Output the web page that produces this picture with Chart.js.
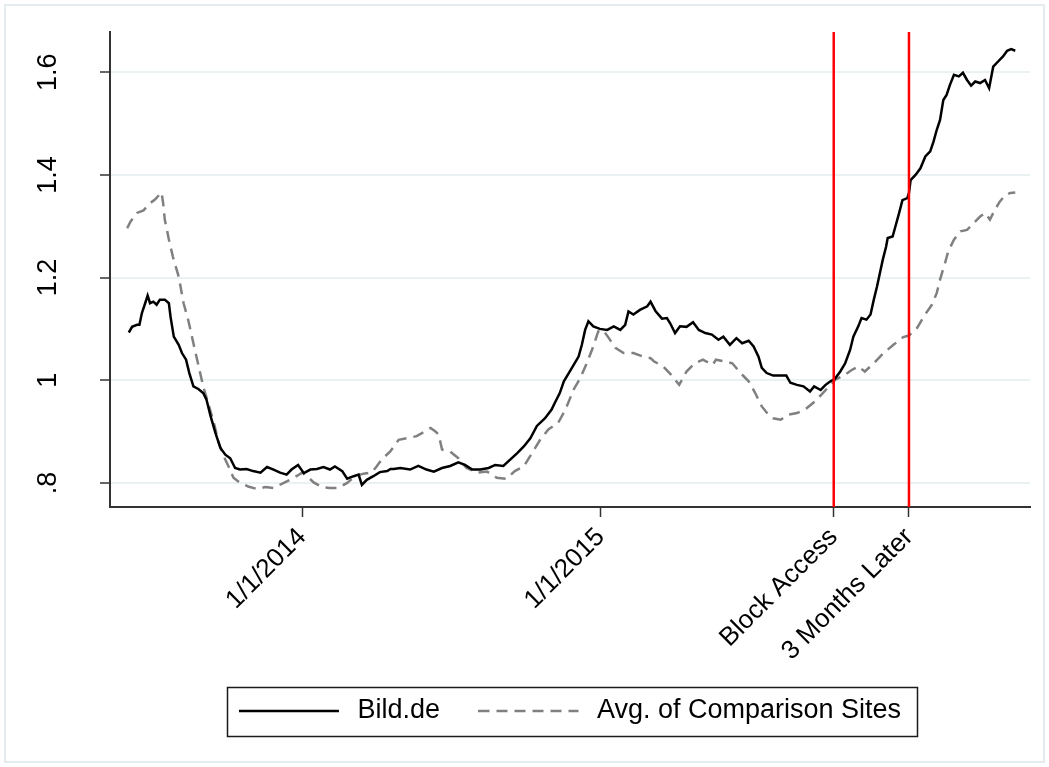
<!DOCTYPE html>
<html><head><meta charset="utf-8">
<script src="https://cdn.jsdelivr.net/npm/chart.js@4/dist/chart.umd.min.js"></script>
<style>html,body{margin:0;padding:0;background:#fff;}</style>
</head><body>
<canvas id="c" width="1049" height="767"></canvas>
<script>
// Days are counted from 1/1/2014 (day 0)
const xTickDays = [0, 365, 650, 742];
const xTickLabels = ['1/1/2014', '1/1/2015', 'Block Access', '3 Months Later'];
const markerDays = [650, 742];
const yTickValues = [0.8, 1.0, 1.2, 1.4, 1.6];
const yTickLabels = ['.8', '1', '1.2', '1.4', '1.6'];
const seriesNames = ['Bild.de', 'Avg. of Comparison Sites'];

const bildDays = [-212,-208,-202,-199,-196,-192,-189,-186,-182,-178,-174,-168,-163,-161,-157,-151,-147,-142,-138,-133,-127,-121,-117,-112,-106,-100,-94,-88,-82,-76,-68,-60,-51,-43,-35,-27,-19,-13,-5,2,10,18,26,34,40,49,55,63,69,73,79,87,95,104,108,112,120,132,142,152,161,171,181,191,199,208,218,228,236,246,252,263,271,279,287,297,305,309,315,320,326,332,338,342,346,350,356,364,373,381,389,395,399,405,413,422,426,432,440,446,450,456,462,470,478,485,493,501,509,515,523,531,538,546,552,558,562,568,576,585,592,597,605,613,621,626,634,640,646,651,658,664,670,674,680,684,690,695,699,703,707,710,714,716,722,726,730,734,740,742,744,750,756,762,768,772,776,780,784,788,792,797,803,808,813,818,823,829,835,840,845,851,857,862,867,872];
const bildValues = [1.093,1.104,1.108,1.108,1.131,1.150,1.165,1.150,1.153,1.147,1.157,1.157,1.150,1.124,1.085,1.069,1.053,1.040,1.014,0.988,0.983,0.975,0.962,0.930,0.897,0.868,0.855,0.848,0.829,0.826,0.827,0.823,0.820,0.831,0.826,0.820,0.816,0.826,0.835,0.819,0.826,0.827,0.831,0.826,0.832,0.823,0.808,0.813,0.816,0.796,0.806,0.813,0.821,0.823,0.827,0.827,0.829,0.826,0.833,0.826,0.822,0.829,0.833,0.840,0.835,0.826,0.826,0.829,0.835,0.833,0.842,0.858,0.871,0.887,0.911,0.926,0.943,0.956,0.975,0.998,1.014,1.030,1.046,1.069,1.098,1.115,1.105,1.100,1.098,1.105,1.098,1.108,1.134,1.128,1.137,1.144,1.153,1.135,1.120,1.121,1.111,1.092,1.105,1.104,1.113,1.098,1.092,1.089,1.079,1.085,1.069,1.082,1.072,1.077,1.066,1.046,1.024,1.014,1.009,1.009,1.009,0.995,0.991,0.988,0.978,0.988,0.981,0.991,0.998,1.002,1.017,1.033,1.059,1.085,1.105,1.121,1.118,1.128,1.157,1.183,1.213,1.235,1.260,1.277,1.280,1.303,1.326,1.351,1.355,1.365,1.390,1.400,1.413,1.436,1.446,1.465,1.488,1.507,1.546,1.556,1.575,1.595,1.592,1.599,1.585,1.574,1.582,1.579,1.585,1.569,1.611,1.621,1.631,1.642,1.645,1.642];

const compDays = [-214,-210,-202,-194,-186,-180,-172,-170,-168,-163,-158,-151,-145,-139,-133,-127,-121,-115,-108,-102,-96,-90,-84,-76,-66,-55,-45,-35,-25,-15,-6,0,6,14,24,34,44,55,65,75,85,91,97,108,118,128,140,150,157,163,167,171,181,191,201,214,226,238,250,260,271,281,291,301,313,322,332,340,348,356,362,368,375,383,393,405,417,426,430,442,451,461,470,480,490,502,506,516,526,536,546,554,562,570,576,585,595,605,615,625,635,646,652,662,672,680,688,699,711,723,735,742,752,760,770,776,780,784,786,790,797,805,813,821,829,835,841,847,853,860,866,872];
const compValues = [1.296,1.309,1.326,1.331,1.345,1.352,1.366,1.345,1.313,1.274,1.240,1.202,1.150,1.115,1.072,1.030,0.988,0.956,0.917,0.878,0.852,0.832,0.810,0.800,0.793,0.788,0.792,0.790,0.798,0.806,0.814,0.820,0.813,0.801,0.792,0.790,0.790,0.800,0.813,0.818,0.820,0.832,0.845,0.862,0.884,0.887,0.891,0.900,0.907,0.900,0.894,0.865,0.861,0.848,0.829,0.820,0.822,0.810,0.808,0.823,0.832,0.858,0.884,0.904,0.917,0.943,0.982,1.004,1.033,1.066,1.095,1.098,1.082,1.063,1.053,1.053,1.046,1.043,1.037,1.026,1.011,0.991,1.017,1.033,1.040,1.030,1.040,1.037,1.033,1.014,0.998,0.975,0.949,0.933,0.926,0.923,0.933,0.936,0.943,0.956,0.972,0.991,1.001,1.009,1.020,1.027,1.017,1.033,1.053,1.069,1.084,1.087,1.102,1.124,1.147,1.170,1.196,1.218,1.228,1.251,1.274,1.290,1.293,1.306,1.319,1.326,1.313,1.332,1.348,1.361,1.365,1.366];

const xMin = -235, xMax = 890, yMin = 0.753, yMax = 1.6785;
const FONT = "'Liberation Sans', Arial, Helvetica, sans-serif";

const toPts = (xs, ys) => xs.map((d, i) => ({x: d, y: ys[i]}));

// legend sample swatches (line + small gap before the text)
function swatch(color, dash) {
  const c = document.createElement('canvas');
  c.width = 105; c.height = 6;
  const g = c.getContext('2d');
  g.strokeStyle = color;
  g.lineWidth = 2.5;
  g.setLineDash(dash);
  g.beginPath(); g.moveTo(0, 3); g.lineTo(100, 3); g.stroke();
  return c;
}

const markerSets = markerDays.map(d => ({
  label: '',
  data: [{x: d, y: yMin}, {x: d, y: yMax}],
  borderColor: '#ff0000',
  borderWidth: 2.5,
  pointRadius: 0,
  order: -1,
  clip: false
}));

const framePlugin = {
  id: 'frame',
  beforeDraw(chart) {
    const ctx = chart.ctx;
    ctx.save();
    ctx.fillStyle = '#ffffff';
    ctx.fillRect(0, 0, chart.width, chart.height);
    ctx.strokeStyle = '#e4ecef';
    ctx.lineWidth = 2;
    ctx.strokeRect(5, 5, chart.width - 10, chart.height - 10);
    ctx.restore();
  }
};

const legendBoxPlugin = {
  id: 'legendBox',
  afterDraw(chart) {
    const lg = chart.legend;
    if (!lg || !lg.legendHitBoxes || !lg.legendHitBoxes.length) return;
    const hb = lg.legendHitBoxes;
    const left = Math.min(...hb.map(h => h.left)) - 12;
    const right = Math.max(...hb.map(h => h.left + h.width)) + 16;
    const top = hb[0].top - 10.5;
    const bottom = hb[0].top + hb[0].height + 11.5;
    const ctx = chart.ctx;
    ctx.save();
    ctx.strokeStyle = '#1a1a1a';
    ctx.lineWidth = 1.5;
    ctx.strokeRect(Math.round(left) + 0.5, Math.round(top) + 0.5, Math.round(right - left), Math.round(bottom - top));
    ctx.restore();
  }
};

new Chart(document.getElementById('c'), {
  type: 'line',
  data: {
    datasets: [
      {
        label: seriesNames[0],
        data: toPts(bildDays, bildValues),
        borderColor: '#000000',
        backgroundColor: '#000000',
        borderWidth: 2.5,
        pointRadius: 0,
        pointStyle: swatch('#000000', []),
        tension: 0
      },
      {
        label: seriesNames[1],
        data: toPts(compDays, compValues),
        borderColor: '#808080',
        backgroundColor: '#808080',
        borderWidth: 2.5,
        borderDash: [11, 7],
        pointRadius: 0,
        pointStyle: swatch('#808080', [11, 7]),
        tension: 0
      },
      ...markerSets
    ]
  },
  options: {
    responsive: false,
    animation: false,
    devicePixelRatio: 1,
    layout: {padding: {left: 0, right: 19, top: 32, bottom: 32.5}},
    plugins: {
      tooltip: {enabled: false},
      legend: {
        position: 'bottom',
        fullSize: false,
        labels: {
          usePointStyle: true,
          pointStyleWidth: 105,
          padding: 38.5,
          color: '#000',
          font: {family: FONT, size: 27},
          filter: item => item.text !== ''
        }
      }
    },
    scales: {
      x: {
        type: 'linear',
        min: xMin,
        max: xMax,
        afterBuildTicks: s => { s.ticks = xTickDays.map(v => ({value: v})); },
        afterFit: s => { s.height = 152; s.paddingLeft = 0; s.paddingRight = 0; },
        grid: {display: true, drawOnChartArea: false, tickLength: 10, tickColor: '#333', tickWidth: 1.5},
        border: {display: true, color: '#333', width: 2},
        ticks: {
          autoSkip: false,
          minRotation: 45,
          maxRotation: 45,
          padding: 5,
          color: '#000',
          font: {family: FONT, size: 26},
          callback: (v, i) => xTickLabels[i]
        }
      },
      y: {
        type: 'linear',
        min: yMin,
        max: yMax,
        afterBuildTicks: s => { s.ticks = yTickValues.map(v => ({value: v})); },
        afterFit: s => { s.width = 110; s.paddingTop = 0; s.paddingBottom = 0; },
        grid: {display: true, color: '#eaf1f3', lineWidth: 2, tickLength: 10, tickColor: '#333', tickWidth: 1.5},
        border: {display: true, color: '#333', width: 2},
        ticks: {
          autoSkip: false,
          minRotation: 90,
          maxRotation: 90,
          crossAlign: 'center',
          padding: 33,
          color: '#000',
          font: {family: FONT, size: 27},
          callback: (v, i) => yTickLabels[i]
        }
      }
    }
  },
  plugins: [framePlugin, legendBoxPlugin]
});
</script>
</body></html>
